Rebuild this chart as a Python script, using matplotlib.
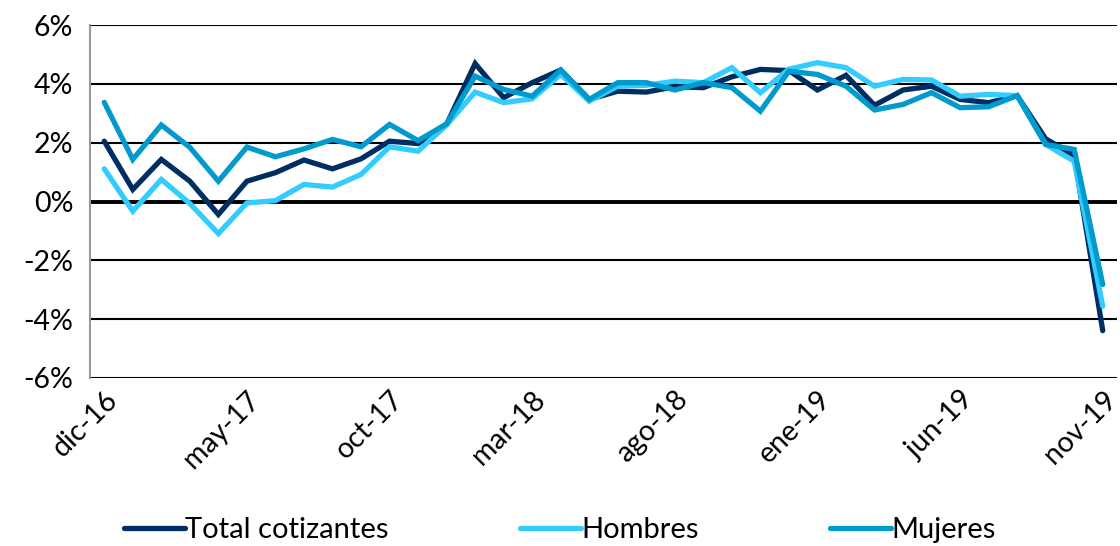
import matplotlib
matplotlib.use("Agg")
import matplotlib.pyplot as plt
from matplotlib.ticker import FuncFormatter

months = ["dic-16", "ene-17", "feb-17", "mar-17", "abr-17", "may-17", "jun-17", "jul-17",
          "ago-17", "sep-17", "oct-17", "nov-17", "dic-17", "ene-18", "feb-18", "mar-18",
          "abr-18", "may-18", "jun-18", "jul-18", "ago-18", "sep-18", "oct-18", "nov-18",
          "dic-18", "ene-19", "feb-19", "mar-19", "abr-19", "may-19", "jun-19", "jul-19",
          "ago-19", "sep-19", "oct-19", "nov-19"]

total = [2.05, 0.41, 1.43, 0.69, -0.44, 0.69, 0.98, 1.41, 1.11, 1.45, 2.05, 1.97,
         2.62, 4.69, 3.53, 4.04, 4.47, 3.47, 3.75, 3.72, 3.90, 3.87, 4.24, 4.49,
         4.45, 3.79, 4.29, 3.27, 3.79, 3.92, 3.47, 3.36, 3.60, 2.13, 1.56, -4.39]

hombres = [1.11, -0.33, 0.75, -0.07, -1.09, -0.05, 0.03, 0.58, 0.49, 0.92, 1.86, 1.71,
           2.60, 3.72, 3.36, 3.49, 4.32, 3.41, 3.92, 3.95, 4.09, 4.04, 4.55, 3.70,
           4.50, 4.72, 4.55, 3.92, 4.15, 4.13, 3.58, 3.64, 3.60, 1.94, 1.37, -3.56]

mujeres = [3.37, 1.43, 2.60, 1.84, 0.69, 1.85, 1.52, 1.79, 2.11, 1.86, 2.62, 2.07,
           2.64, 4.26, 3.81, 3.58, 4.47, 3.47, 4.04, 4.04, 3.79, 4.04, 3.87, 3.07,
           4.43, 4.32, 3.92, 3.11, 3.30, 3.70, 3.19, 3.22, 3.60, 1.94, 1.77, -2.82]

series_names = ["Total cotizantes", "Hombres", "Mujeres"]
colors = ["#002D62", "#33CCFF", "#009ACD"]
yticks = [-6, -4, -2, 0, 2, 4, 6]

plt.rcParams['font.family'] = ['Lato', 'DejaVu Sans']

fig = plt.figure(figsize=(11.2, 5.46), dpi=100)
ax = fig.add_axes([90 / 1120, 1 - 378 / 546, (1117 - 90) / 1120, (378 - 25) / 546])

x = list(range(len(months)))
for vals, name, c in zip([total, hombres, mujeres], series_names, colors):
    ax.plot(x, vals, color=c, lw=3.8, label=name, solid_capstyle='round',
            solid_joinstyle='miter', zorder=3)

ax.set_xlim(-0.5, len(months) - 0.5)
ax.set_ylim(-6, 6)
ax.set_yticks(yticks)
ax.yaxis.set_major_formatter(FuncFormatter(lambda v, p: f"{int(v)}%"))
for v in yticks:
    ax.axhline(v, color="black", lw=1.5 if v != 0 else 2.8, zorder=1)

ax.set_xticks(x[::5])
ax.set_xticklabels(months[::5], rotation=45, ha='right', rotation_mode='anchor')
ax.tick_params(axis='x', length=0, pad=6, labelsize=20.5)
ax.tick_params(axis='y', length=0, pad=12, labelsize=20.5)

for s in ["top", "right", "bottom"]:
    ax.spines[s].set_visible(False)
ax.spines["left"].set_color("#999999")
ax.spines["left"].set_linewidth(1.5)

handles, labels = ax.get_legend_handles_labels()
fig.legend(handles, labels, loc='center', bbox_to_anchor=(0.5, 1 - 530 / 546), ncol=3,
           frameon=False, fontsize=21, handlelength=2.1, handletextpad=0.0,
           columnspacing=4.5)

fig.savefig("out.png", dpi=100)
